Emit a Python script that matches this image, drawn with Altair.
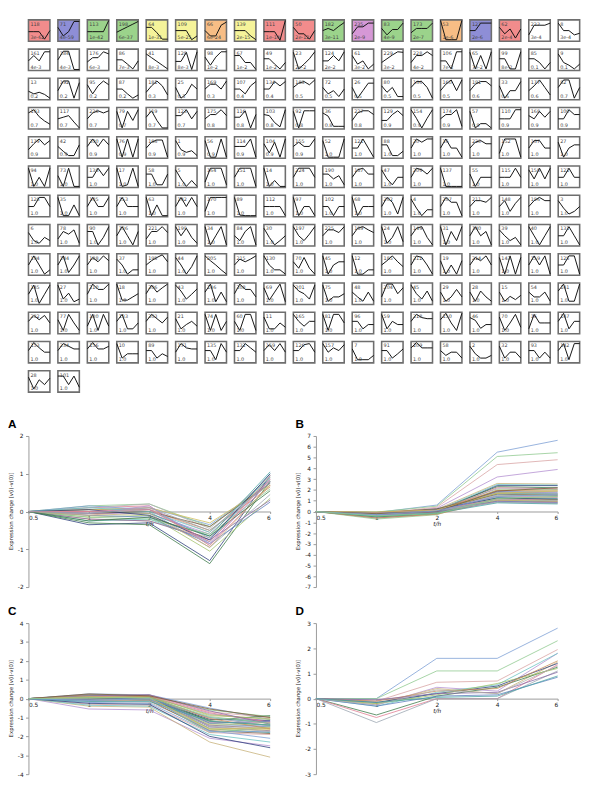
import altair as alt
import pandas as pd

# ---------------- profile grid (STEM-style) ----------------
grid_ids = [
    118, 71, 113, 198, 64, 109, 66, 139, 111, 50, 182, 235, 83, 173, 53, 127, 62, 223, 8,
    161, 184, 176, 86, 41, 120, 98, 67, 49, 23, 124, 61, 229, 228, 106, 65, 99, 85, 9,
    13, 192, 95, 87, 181, 25, 169, 107, 134, 183, 72, 26, 80, 166, 160, 191, 33, 177, 82,
    193, 117, 226, 79, 119, 123, 175, 116, 103, 92, 36, 227, 129, 154, 174, 57, 110, 168, 100,
    179, 42, 200, 76, 186, 1, 56, 114, 104, 155, 52, 121, 88, 20, 16, 220, 152, 167, 27,
    94, 73, 138, 17, 58, 5, 164, 151, 14, 224, 190, 187, 47, 209, 137, 55, 115, 158, 122,
    128, 35, 105, 153, 63, 142, 170, 89, 112, 97, 102, 68, 202, 4, 207, 211, 148, 196, 3,
    6, 78, 90, 136, 221, 199, 34, 84, 30, 197, 225, 189, 24, 149, 31, 140, 39, 40, 131,
    194, 144, 188, 37, 195, 44, 205, 215, 130, 70, 45, 12, 185, 212, 19, 214, 143, 159, 125,
    145, 27, 210, 18, 206, 43, 146, 208, 69, 201, 75, 48, 204, 45, 29, 28, 15, 54, 141,
    232, 77, 180, 133, 203, 21, 74, 60, 11, 165, 81, 96, 59, 218, 150, 46, 70, 16, 147,
    153, 234, 156, 10, 89, 171, 135, 132, 159, 126, 157, 7, 91, 209, 58, 2, 32, 93, 142,
    28, 101,
]

grid_pvals = (
    ["3e-62", "4e-59", "1e-42", "6e-37", "1e-31", "5e-25", "6e-24", "2e-15", "1e-14", "2e-12",
     "3e-11", "2e-9", "4e-9", "2e-7", "1e-6", "2e-6", "2e-4", "3e-4", "3e-4"]
    + ["4e-3", "4e-3", "6e-3", "7e-3", "8e-3", "8e-3", "1e-2", "1e-2", "1e-2", "2e-2",
       "2e-2", "3e-2", "3e-2", "4e-2", "7e-2", "7e-2", "8e-2", "0.1", "0.1"]
    + ["0.2", "0.2", "0.2", "0.2", "0.3", "0.3", "0.3", "0.4", "0.4", "0.5",
       "0.5", "0.5", "0.5", "0.5", "0.5", "0.6", "0.6", "0.6", "0.7"]
    + ["0.7"] * 6 + ["0.8"] * 6 + ["0.9"] * 7
    + ["0.9"] * 10 + ["1.0"] * 9
    + ["1.0"] * (19 * 7 + 2)
)

grid_fill_names = ["red", "blue", "green", "green", "yellow", "yellow", "orange", "yellow",
                   "red", "red", "green", "purple", "green", "green", "orange", "blue", "red"]

fill_colors = {"red": "#f28c8c", "blue": "#8e8ed6", "green": "#9bd38b", "yellow": "#f5f39a",
               "orange": "#f7bd85", "purple": "#d698d6"}

grid_profiles = [
    # row 0
    [1.8, 1.8, 1.8, 0.4, 2.0], [2.6, 1.0, 1.8, 3.7, 3.7], [1.8, 1.8, 1.8, 1.8, 3.9], [1.7, 2.2, 2.7, 3.2, 3.7],
    [2.6, 2.6, 1.6, 0.4, 0.4], [2.0, 2.0, 2.0, 0.3, 1.0], [2.0, 1.0, 1.0, 3.0, 3.6], [2.0, 2.0, 2.0, 1.0, 0.3],
    [1.8, 1.8, 1.8, 0.2, 3.9], [2.6, 1.4, 1.4, 0.4, 2.0], [2.0, 2.4, 2.0, 2.8, 3.5], [1.4, 2.7, 2.7, 3.4, 3.4],
    [2.4, 1.2, 2.2, 2.2, 3.4], [1.6, 2.4, 2.4, 2.4, 3.4], [3.9, 0.3, 0.3, 0.3, 3.9], [2.0, 2.0, 3.4, 3.4, 3.4],
    [2.6, 1.4, 2.3, 0.6, 2.3], [1.2, 3.0, 3.0, 3.0, 3.4], [3.4, 2.0, 2.0, 1.2, 1.5],
    # row 1
    [1.8, 2.8, 1.8, 3.5, 3.5], [2.0, 3.6, 3.6, 0.2, 0.2], [1.6, 2.4, 2.4, 3.5, 3.1], [2.0, 2.0, 1.2, 0.3, 1.8],
    [3.1, 2.4, 1.7, 1.0, 0.3], [1.7, 1.7, 3.4, 0.2, 3.5], [2.5, 1.0, 2.5, 3.5, 3.5], [2.8, 2.8, 1.5, 1.5, 0.2],
    [2.2, 2.2, 1.2, 0.3, 1.5], [3.4, 0.3, 1.2, 2.2, 3.5], [1.8, 1.8, 2.8, 1.8, 3.5], [2.8, 1.2, 1.8, 0.3, 1.2],
    [1.5, 2.2, 2.9, 3.5, 3.4], [1.5, 2.8, 2.8, 3.5, 2.8], [1.8, 1.8, 0.3, 3.5, 3.5], [3.4, 0.3, 2.8, 0.3, 3.5],
    [2.2, 2.2, 0.3, 0.3, 3.5], [2.2, 2.2, 1.5, 0.3, 1.5], [3.1, 1.5, 1.0, 0.3, 1.2],
    # row 2
    [1.6, 1.1, 1.4, 1.0, 0.3], [1.7, 3.5, 3.5, 0.3, 3.2], [2.8, 1.1, 2.6, 3.5, 2.8], [2.0, 2.0, 1.1, 0.3, 0.9],
    [1.4, 2.6, 3.5, 2.6, 0.9], [2.3, 0.3, 1.1, 2.9, 2.0], [2.0, 2.9, 2.9, 2.0, 3.5], [2.0, 2.0, 1.1, 2.6, 3.4],
    [2.0, 2.0, 3.4, 2.6, 3.4], [2.3, 3.1, 3.4, 2.8, 3.7], [2.3, 1.1, 1.7, 0.6, 2.0], [2.3, 0.3, 1.7, 3.1, 3.1],
    [2.6, 1.4, 2.3, 0.6, 0.6], [2.3, 3.4, 3.4, 2.3, 0.3], [1.7, 2.9, 3.7, 1.7, 3.7], [1.7, 2.9, 3.4, 3.4, 2.6],
    [2.6, 0.3, 1.7, 1.7, 3.4], [1.7, 2.6, 3.7, 2.3, 0.9], [2.3, 3.7, 3.7, 0.3, 2.3],
    # row 3
    [3.0, 3.6, 2.3, 1.5, 0.9], [1.9, 2.2, 2.5, 1.3, 0.2], [1.9, 3.0, 3.4, 3.0, 3.4], [3.3, 0.2, 3.3, 1.6, 3.6],
    [2.2, 3.4, 1.6, 0.2, 0.2], [2.5, 2.5, 3.6, 1.9, 3.3], [1.9, 2.7, 2.7, 3.6, 2.5], [2.2, 2.2, 3.4, 0.2, 2.7],
    [2.7, 2.5, 1.2, 0.4, 3.6], [3.3, 0.2, 3.4, 3.4, 3.4], [3.0, 2.4, 0.5, 0.5, 0.5], [1.6, 3.0, 3.4, 3.4, 2.7],
    [1.6, 1.6, 2.7, 3.4, 2.5], [3.6, 2.0, 0.2, 2.0, 3.6], [1.9, 2.7, 2.7, 3.6, 0.5], [3.3, 0.2, 1.0, 1.0, 0.2],
    [1.9, 1.9, 1.9, 3.6, 3.6], [2.5, 1.9, 3.3, 2.2, 3.3], [1.9, 1.9, 3.6, 2.7, 2.7],
    # row 4
    [1.6, 2.7, 3.6, 2.5, 3.3], [2.2, 1.3, 0.5, 0.5, 2.5], [2.2, 3.6, 2.2, 3.6, 2.5], [3.6, 0.2, 3.6, 0.2, 3.6],
    [1.9, 3.0, 3.4, 3.4, 0.2], [3.3, 1.6, 1.1, 1.4, 0.5], [3.3, 0.2, 0.2, 3.6, 0.2], [2.2, 2.2, 2.2, 3.6, 0.2],
    [2.7, 1.0, 3.0, 0.2, 3.6], [2.2, 3.0, 2.2, 2.2, 3.6], [3.3, 0.2, 0.2, 0.2, 3.6], [1.9, 1.9, 3.6, 1.9, 0.2],
    [2.5, 2.5, 0.5, 0.5, 1.3], [1.9, 3.6, 3.0, 3.6, 3.6], [1.9, 3.6, 1.9, 1.9, 0.2], [1.9, 3.0, 3.3, 2.7, 2.7],
    [0.9, 3.6, 3.6, 3.6, 0.2], [1.9, 3.3, 3.3, 1.9, 1.9], [3.0, 0.2, 1.9, 2.5, 2.5],
    # row 5
    [3.6, 0.2, 1.9, 0.2, 3.6], [2.2, 0.2, 3.6, 0.2, 0.2], [1.9, 1.9, 3.6, 2.2, 3.6], [3.6, 0.2, 0.5, 3.6, 0.2],
    [2.5, 2.5, 0.5, 0.5, 2.5], [3.3, 1.6, 0.2, 1.3, 0.2], [1.0, 3.6, 3.6, 3.6, 0.5], [1.9, 3.6, 3.6, 3.6, 0.2],
    [3.6, 0.2, 1.3, 0.2, 0.2], [1.9, 3.6, 3.6, 3.6, 1.9], [2.5, 2.5, 1.6, 2.2, 0.5], [1.9, 3.3, 3.6, 2.5, 2.5],
    [3.3, 1.6, 0.5, 1.9, 1.9], [1.9, 3.6, 3.3, 2.5, 3.6], [3.6, 0.2, 0.2, 0.2, 0.2], [2.5, 0.2, 1.9, 1.9, 1.9],
    [1.9, 1.9, 1.9, 3.6, 1.9], [3.3, 1.6, 3.6, 1.6, 3.6], [1.9, 1.9, 3.6, 1.9, 1.9],
    # row 6
    [1.9, 1.9, 3.6, 3.6, 1.9], [3.6, 0.2, 0.2, 2.2, 0.2], [1.9, 3.6, 1.9, 1.9, 3.6], [1.9, 3.6, 1.9, 1.9, 1.9],
    [3.6, 0.2, 2.2, 0.2, 0.2], [1.9, 3.6, 1.9, 3.6, 1.9], [1.0, 3.6, 3.6, 3.6, 3.6], [3.6, 0.3, 0.2, 0.2, 0.2],
    [1.9, 1.9, 1.9, 1.9, 0.2], [3.6, 0.2, 1.9, 1.9, 0.2], [1.9, 1.9, 0.2, 1.9, 1.9], [3.6, 0.2, 1.9, 1.9, 1.9],
    [1.9, 3.6, 2.7, 0.5, 3.6], [3.3, 1.6, 0.2, 1.3, 1.3], [1.9, 3.6, 2.7, 2.7, 0.2], [1.9, 3.0, 3.0, 2.7, 3.6],
    [1.9, 3.0, 1.0, 2.5, 3.6], [1.9, 3.0, 3.6, 3.0, 3.0], [3.0, 1.6, 0.5, 1.0, 1.9],
    # row 7
    [2.5, 1.0, 0.5, 1.6, 1.0], [1.3, 2.7, 2.2, 3.0, 0.5], [2.7, 2.7, 0.2, 1.6, 3.6], [1.9, 3.6, 1.9, 0.2, 2.7],
    [1.3, 2.7, 2.7, 3.6, 2.5], [3.6, 1.9, 3.3, 1.6, 0.5], [3.6, 0.2, 1.9, 3.6, 0.2], [1.9, 1.0, 2.7, 3.6, 0.2],
    [3.3, 1.6, 0.2, 1.0, 1.9], [3.6, 1.9, 1.0, 2.2, 3.6], [1.9, 3.0, 3.0, 2.5, 3.6], [1.9, 3.3, 3.6, 3.0, 2.5],
    [3.6, 0.5, 1.6, 3.6, 0.8], [1.9, 3.3, 3.6, 1.6, 0.2], [3.6, 0.2, 2.7, 1.0, 3.6], [1.9, 3.6, 1.9, 2.7, 0.2],
    [3.0, 1.9, 1.0, 1.6, 0.2], [3.6, 1.9, 0.2, 1.9, 3.6], [1.9, 1.9, 3.6, 1.9, 0.2],
    # row 8
    [1.9, 3.6, 1.9, 0.2, 1.0], [1.9, 3.6, 0.5, 1.9, 3.6], [1.9, 3.3, 2.5, 3.6, 2.7], [3.0, 1.9, 0.2, 1.0, 1.0],
    [1.9, 2.7, 3.3, 3.8, 2.5], [3.3, 1.9, 0.2, 1.6, 3.6], [3.6, 2.7, 1.9, 1.0, 0.2], [1.9, 3.0, 2.5, 3.0, 3.6],
    [3.6, 1.9, 1.0, 1.0, 0.2], [2.5, 1.3, 3.3, 1.3, 0.2], [3.6, 0.2, 1.9, 2.5, 2.5], [3.6, 0.2, 0.2, 1.0, 1.0],
    [1.9, 2.7, 3.6, 2.5, 1.6], [1.9, 3.6, 3.3, 1.9, 0.2], [2.7, 0.2, 1.9, 0.2, 2.7], [1.9, 3.3, 2.7, 3.6, 1.9],
    [3.3, 0.2, 3.6, 0.2, 3.3], [1.9, 3.6, 1.9, 3.6, 0.2], [1.9, 1.9, 3.6, 3.6, 0.2],
    # row 9
    [1.9, 3.6, 0.2, 1.9, 3.6], [3.6, 1.0, 2.1, 0.5, 1.0], [1.9, 3.8, 2.8, 2.8, 3.8], [3.8, 0.8, 0.8, 1.4, 2.0],
    [2.0, 3.6, 2.3, 3.1, 3.8], [3.6, 2.5, 1.0, 1.9, 2.9], [2.3, 3.8, 0.5, 2.3, 0.5], [2.0, 3.8, 2.8, 2.8, 1.4],
    [3.1, 0.8, 2.3, 3.8, 0.5], [3.6, 2.5, 2.0, 1.0, 3.6], [3.6, 0.6, 1.4, 1.4, 2.0], [2.3, 1.4, 0.6, 2.3, 0.6],
    [1.4, 3.8, 3.8, 2.0, 3.1], [3.6, 2.0, 1.0, 2.5, 0.6], [2.3, 0.6, 1.4, 2.8, 1.4], [2.3, 0.6, 2.5, 1.4, 0.6],
    [2.3, 0.6, 1.5, 0.9, 1.7], [2.3, 1.4, 1.4, 2.3, 0.6], [2.5, 3.8, 0.6, 0.6, 3.8],
    # row 10
    [2.3, 3.4, 2.6, 3.4, 2.0], [2.6, 0.6, 3.6, 2.0, 0.6], [1.4, 3.6, 0.6, 3.6, 1.4], [2.3, 3.6, 0.9, 0.9, 2.0],
    [2.3, 3.6, 2.8, 2.0, 3.1], [2.8, 0.9, 1.7, 2.3, 1.4], [3.6, 0.6, 3.6, 0.6, 2.3], [2.3, 0.6, 3.6, 3.6, 0.6],
    [3.1, 0.9, 0.9, 2.0, 1.2], [3.6, 2.3, 1.4, 2.3, 2.3], [3.6, 0.6, 3.6, 3.6, 2.0], [2.3, 2.3, 0.9, 1.7, 1.7],
    [3.6, 0.9, 2.3, 1.7, 1.7], [2.3, 3.6, 3.0, 2.8, 2.8], [2.6, 3.8, 2.0, 0.6, 3.8], [3.0, 2.5, 1.0, 1.7, 1.7],
    [3.1, 0.6, 2.0, 3.6, 1.2], [0.9, 3.6, 2.0, 2.0, 2.0], [2.3, 3.8, 0.9, 2.3, 2.3],
    # row 11
    [2.3, 3.8, 2.8, 2.0, 2.0], [2.3, 3.6, 3.1, 2.6, 2.6], [2.6, 3.8, 2.6, 2.6, 3.1], [3.6, 0.9, 1.7, 1.7, 1.7],
    [2.3, 2.3, 0.9, 1.7, 1.2], [2.0, 3.6, 2.8, 2.6, 2.6], [2.3, 2.3, 0.6, 3.6, 2.0], [2.3, 2.3, 3.6, 2.8, 2.0],
    [2.3, 3.4, 2.3, 3.6, 2.0], [2.3, 2.3, 3.4, 3.6, 2.0], [3.6, 2.0, 2.8, 2.3, 3.4], [2.6, 0.6, 0.6, 0.6, 1.4],
    [2.3, 2.3, 0.9, 1.7, 2.6], [2.8, 3.8, 2.8, 2.8, 2.8], [2.3, 1.4, 2.0, 2.0, 0.9], [3.1, 1.7, 0.9, 0.9, 1.4],
    [3.1, 0.9, 2.0, 2.0, 0.9], [2.3, 2.3, 0.9, 2.0, 0.9], [2.3, 3.6, 0.6, 3.6, 3.6],
    # row 12
    [2.8, 0.6, 2.3, 1.4, 2.6], [3.0, 3.0, 1.4, 3.0, 0.9],
]

# ---------------- panels A-D (values at t = 1, 2, 4, 6; value at 0.5 is 0) ----------------
time_labels = ["0.5", "1", "2", "4", "6"]
y_title = "Expression change [v(i)-v(0)]"

panel_a = [
    [0.05, 0.10, -0.35, 0.75], [0.15, 0.20, -0.40, 0.80], [-0.10, 0.05, -0.55, 0.95], [-0.05, -0.05, -0.60, 0.85],
    [-0.20, -0.25, -0.70, 0.90], [-0.25, -0.20, -0.80, 1.00], [-0.35, -0.30, -1.30, 0.95], [-0.30, -0.35, -1.38, 0.80],
    [0.10, 0.15, -0.90, 0.70], [0.00, 0.00, -0.95, 0.45], [-0.15, -0.10, -1.05, 0.35], [0.05, 0.05, -0.50, 0.65],
    [-0.10, -0.15, -0.85, 0.25], [-0.20, -0.25, -0.75, 0.30], [0.10, 0.20, -0.45, 0.90], [0.00, -0.05, -0.65, 1.05],
    [0.05, 0.10, -0.30, 0.70], [-0.05, 0.00, -0.40, 0.75], [0.15, 0.05, -0.70, 0.85], [-0.15, -0.20, -0.60, 0.60],
    [0.00, 0.10, -0.90, 0.95], [-0.05, 0.15, -0.85, 0.80], [-0.10, -0.05, -0.95, 0.70], [0.10, 0.00, -0.55, 0.90],
    [0.05, -0.10, -0.75, 1.00], [-0.25, -0.15, -0.65, 0.55], [0.00, 0.05, -0.80, 0.85], [-0.05, 0.10, -0.50, 0.75],
]

panel_b = [
    [-0.10, 0.60, 5.50, 6.60], [-0.05, 0.50, 5.10, 5.45], [-0.20, 0.40, 4.35, 4.80], [-0.30, 0.30, 3.20, 3.90],
    [-0.20, 0.20, 2.60, 2.55], [-0.25, 0.10, 2.50, 2.45], [-0.30, 0.00, 2.40, 2.40], [-0.35, 0.10, 2.30, 2.20],
    [-0.40, -0.05, 2.20, 2.10], [-0.10, 0.20, 2.10, 2.05], [-0.50, -0.10, 2.00, 2.00], [-0.15, 0.15, 1.95, 1.90],
    [-0.30, 0.05, 1.85, 1.80], [-0.60, -0.20, 1.80, 1.70], [-0.20, 0.10, 1.75, 1.65], [-0.25, 0.00, 1.70, 1.60],
    [-0.45, -0.15, 1.65, 1.55], [-0.10, 0.25, 1.60, 1.50], [-0.35, -0.05, 1.55, 1.45], [-0.70, -0.30, 1.50, 1.40],
    [-0.20, 0.05, 1.45, 1.35], [-0.30, 0.15, 1.40, 1.30], [-0.15, 0.00, 1.35, 1.25], [-0.40, -0.10, 1.30, 1.20],
    [-0.25, 0.20, 1.25, 1.15], [-0.50, -0.20, 1.20, 1.10], [-0.10, 0.10, 1.15, 1.05], [-0.35, 0.00, 1.10, 1.00],
    [-0.20, -0.10, 1.05, 0.95], [-0.60, -0.25, 1.00, 0.90], [-0.15, 0.05, 0.95, 0.85], [-0.30, -0.05, 0.90, 0.80],
    [-0.25, 0.10, 0.85, 0.75], [-0.45, -0.15, 0.80, 0.70], [-0.05, 0.15, 1.70, 1.90], [-0.20, 0.00, 1.90, 2.20],
    [-0.30, 0.05, 1.40, 1.60], [-0.40, -0.20, 1.20, 1.40],
]

panel_c = [
    [0.25, 0.20, -0.50, -1.10], [0.20, 0.15, -0.60, -0.95], [0.15, 0.20, -0.70, -1.00], [0.10, 0.10, -0.80, -1.20],
    [0.05, 0.15, -0.90, -1.05], [0.20, 0.05, -1.00, -1.30], [0.00, 0.00, -1.10, -1.15], [0.15, 0.10, -1.20, -1.40],
    [-0.05, -0.05, -1.25, -1.25], [0.10, 0.20, -1.30, -1.50], [0.05, 0.00, -1.35, -1.35], [-0.10, -0.10, -1.40, -1.60],
    [0.20, 0.15, -1.45, -1.45], [0.00, 0.05, -1.50, -1.70], [-0.15, -0.20, -1.55, -1.55], [0.10, 0.10, -1.60, -1.80],
    [-0.05, 0.00, -1.65, -1.65], [0.05, -0.10, -1.70, -1.85], [-0.20, -0.25, -1.75, -1.75], [0.15, 0.05, -1.80, -1.50],
    [-0.30, -0.35, -1.80, -1.90], [-0.55, -0.60, -2.10, -2.50], [-0.40, -0.45, -2.30, -3.10], [-0.35, -0.40, -1.90, -2.30],
    [-0.25, -0.30, -2.00, -2.60], [0.00, -0.05, -1.15, -0.90], [0.10, 0.15, -0.75, -1.25], [-0.10, -0.05, -1.00, -1.45],
    [0.05, 0.10, -0.85, -1.10], [0.20, 0.10, -1.05, -1.60], [-0.05, 0.05, -1.30, -1.20], [0.15, 0.20, -0.65, -1.35],
    [0.00, -0.10, -1.45, -1.75], [-0.15, -0.15, -1.20, -1.40], [0.10, 0.05, -1.60, -1.55], [0.25, 0.15, -0.55, -1.00],
    [-0.10, 0.00, -1.70, -2.10], [0.05, 0.05, -0.95, -1.30],
]

panel_d = [
    [0.00, 1.60, 1.60, 2.80], [0.00, 1.10, 1.10, 2.30], [-0.10, 0.65, 0.70, 1.95], [-0.25, 0.45, 0.30, 1.80],
    [-0.20, 0.40, 0.20, 1.45], [-0.30, 0.25, 0.55, 1.80], [-0.15, 0.20, 0.50, 1.40], [-0.65, 0.10, 0.45, 1.25],
    [-0.75, 0.00, 0.00, 1.35], [-0.95, 0.00, 0.00, 1.10], [-0.20, 0.15, 0.60, 1.20], [-0.10, 0.30, 0.40, 1.50],
    [-0.30, 0.10, 0.15, 0.85], [-0.05, 0.20, 0.25, 1.05], [-0.25, 0.35, 0.20, 1.30], [-0.15, 0.05, 0.10, 0.90],
]

line_palette = ["#7b9fd4", "#8fc98f", "#d9a3a3", "#b38fd1", "#c8b27a", "#6cc4c4", "#2c3e7a", "#3d7a4a",
                "#e07b91", "#9aa5b1", "#a3c26a", "#c98b5a", "#5f7fbf", "#8a6aa8", "#b0b0b0", "#4aa3a3",
                "#d1c05a", "#7a5c3d"]
panel_d_palette = ["#c4ad96", "#d94f7a", "#a9b7e6", "#333344", "#b05fb8", "#5aa05a", "#9aa5b1", "#5f8fbf",
                   "#e0a070", "#d6b89a", "#7fc4c4", "#c07090", "#6fb36f", "#8a9ad0", "#b49a70", "#c8c84a"]

# ---------------- grid layout (derived from row/column index of each profile) ----------------
n_cols = 19
n_rows = (len(grid_profiles) + n_cols - 1) // n_cols
box = 22.0
pitch_x = 30.2
pitch_y = 30.0
gw = (n_cols - 1) * pitch_x + box
gh = (n_rows - 1) * pitch_y + box

box_rows, line_rows = [], []
for i, (gid, pv, prof) in enumerate(zip(grid_ids, grid_pvals, grid_profiles)):
    r, c = i // n_cols, i % n_cols
    fill = fill_colors[grid_fill_names[i]] if i < len(grid_fill_names) else "#ffffff"
    x0, y0 = c * pitch_x, r * pitch_y
    box_rows.append({"box": i, "x0": x0, "x1": x0 + box, "y0": y0, "y1": y0 + box,
                     "gid": str(gid), "pval": pv, "fill": fill})
    for k, v in enumerate(prof):
        line_rows.append({"box": i, "k": k, "x": x0 + k * box / 4, "y": y0 + (4 - v) * box / 4})
box_df = pd.DataFrame(box_rows)
line_df = pd.DataFrame(line_rows)

xs = alt.Scale(domain=[0, gw], nice=False, zero=False)
ys = alt.Scale(domain=[0, gh], nice=False, zero=False, reverse=True)

g_rect = alt.Chart(box_df).mark_rect(stroke="#6e6e6e", strokeWidth=1.6).encode(
    x=alt.X("x0:Q", scale=xs, axis=None), x2="x1:Q",
    y=alt.Y("y0:Q", scale=ys, axis=None), y2="y1:Q",
    fill=alt.Fill("fill:N", scale=None),
)
g_line = alt.Chart(line_df).mark_line(color="#111111", strokeWidth=1).encode(
    x=alt.X("x:Q", scale=xs, axis=None),
    y=alt.Y("y:Q", scale=ys, axis=None),
    detail="box:N", order="k:Q",
)
g_id = alt.Chart(box_df).mark_text(align="left", baseline="top", fontSize=5, font="DejaVu Sans",
                                   fill="#444444", dx=2, dy=2).encode(
    x=alt.X("x0:Q", scale=xs, axis=None), y=alt.Y("y0:Q", scale=ys, axis=None), text="gid:N")
g_p = alt.Chart(box_df).mark_text(align="left", baseline="bottom", fontSize=5, font="DejaVu Sans",
                                  fill="#444444", dx=2, dy=-1).encode(
    x=alt.X("x0:Q", scale=xs, axis=None), y=alt.Y("y1:Q", scale=ys, axis=None), text="pval:N")

grid = alt.layer(g_rect, g_line, g_id, g_p).properties(width=gw, height=gh)

PANEL_H = 155
PANEL_W = 248


def panel(letter, lines, ymin, ymax, palette):
    rows = []
    for j, vals in enumerate(lines):
        full = [0.0] + vals
        for ti, (t, v) in enumerate(zip(time_labels, full)):
            rows.append({"gene": j, "t": t, "ti": ti, "v": v})
    df = pd.DataFrame(rows)
    h = PANEL_H
    lines_chart = alt.Chart(df).mark_line(strokeWidth=0.8).encode(
        x=alt.X("t:O", sort=time_labels, scale=alt.Scale(type="point", padding=0),
                axis=alt.Axis(title="t/h", titleFontStyle="italic", titleFontSize=6, titleFont="DejaVu Sans",
                              titleFontWeight="normal", titlePadding=0, labelFontSize=6, labelFont="DejaVu Sans",
                              labelPadding=1, tickSize=2, offset=-h / 2, labelAngle=0, labelFlush=True,
                              domainColor="#999999", tickColor="#999999", labelColor="#222222",
                              titleColor="#222222", grid=False)),
        y=alt.Y("v:Q", scale=alt.Scale(domain=[ymin, ymax], nice=False, zero=False),
                axis=alt.Axis(values=list(range(ymin, ymax + 1)), title=None,
                              labelFontSize=6, labelFont="DejaVu Sans", labelPadding=2.5,
                              tickSize=3, domainColor="#999999", tickColor="#999999", labelColor="#222222",
                              grid=False, labelExpr="'' + datum.value")),
        color=alt.Color("gene:N", scale=alt.Scale(range=palette), legend=None),
        detail="gene:N",
        order="ti:Q",
    )
    ytitle = alt.Chart(pd.DataFrame({"label": [y_title]})).mark_text(
        angle=270, fontSize=5.5, font="DejaVu Sans", color="#222222", align="center", baseline="middle",
    ).encode(text="label:N", x=alt.value(-18), y=alt.value(h / 2))
    return alt.layer(lines_chart, ytitle).properties(
        width=PANEL_W, height=h,
        title=alt.TitleParams(letter, anchor="start", frame="group", dx=-21, fontSize=12,
                              font="Liberation Sans", fontWeight="bold", offset=2, color="black"),
    )


pa = panel("A", panel_a, -2, 2, line_palette)
pb = panel("B", panel_b, -7, 7, line_palette)
pc = panel("C", panel_c, -4, 4, line_palette)
pd_ = panel("D", panel_d, -3, 3, panel_d_palette)

bottom = alt.vconcat(alt.hconcat(pa, pb, spacing=24), alt.hconcat(pc, pd_, spacing=24), spacing=16)
chart = alt.vconcat(grid, bottom, spacing=26).properties(padding=0, background="white").configure_view(
    strokeWidth=0)

chart.save("out.html", embed_options={"renderer": "svg", "actions": False})
